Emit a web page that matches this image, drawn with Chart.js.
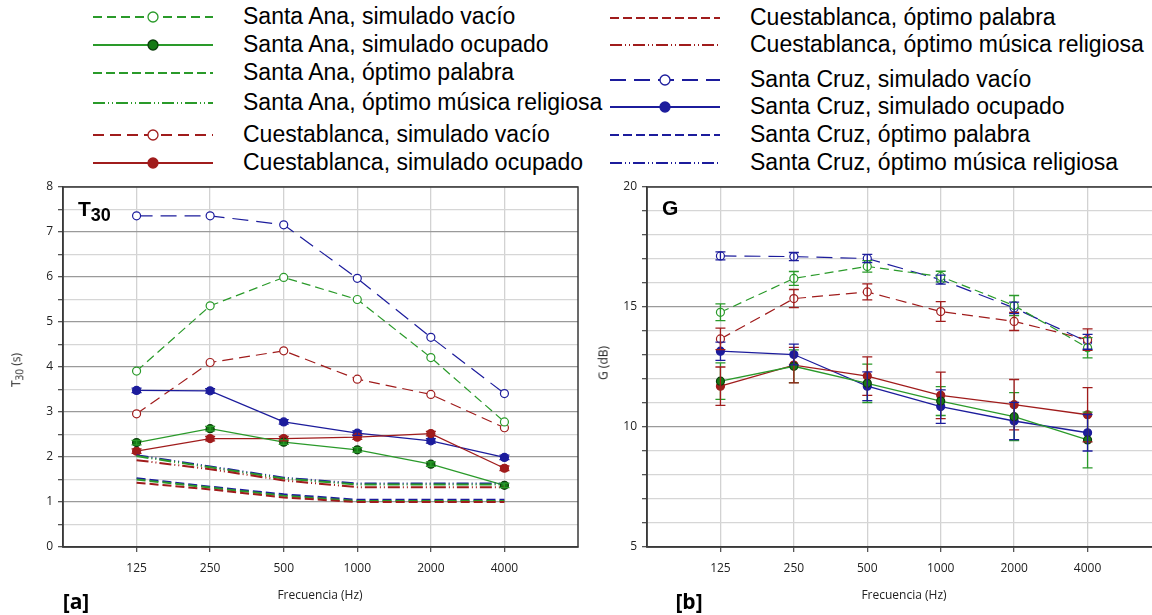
<!DOCTYPE html>
<html>
<head>
<meta charset="utf-8">
<script src="https://cdn.jsdelivr.net/npm/chart.js@4/dist/chart.umd.min.js"></script>
<style>
  body { margin: 0; width: 1152px; height: 615px; overflow: hidden; position: relative; background: #fff; font-family: "Liberation Sans", Arial, sans-serif; }
  .abs { position: absolute; }
  .legText { font-size: 23px; color: #000; white-space: nowrap; line-height: 23px; }
  .panelTag { font-family: "Open Sans", sans-serif; font-weight: bold; font-size: 21px; color: #000; }
  .axTitle { font-family: "Open Sans", sans-serif; font-size: 12px; color: #222; white-space: nowrap; }
  .inLabel { font-family: "Liberation Sans", Arial, sans-serif; font-weight: bold; font-size: 21px; color: #000; }
  canvas { position: absolute; }
</style>
</head>
<body>
<div id="legend"></div>
<canvas id="t30Chart" width="590" height="445" style="left:0;top:170px"></canvas>
<canvas id="gChart" width="600" height="445" style="left:584px;top:170px"></canvas>

<div class="abs inLabel" style="left:78px;top:197px">T<sub style="font-size:18px">30</sub></div>
<div class="abs inLabel" style="left:662px;top:196px">G</div>
<div class="abs axTitle" style="left:17px;top:370px;transform:translate(-50%,-50%) rotate(-90deg)">T<sub>30</sub> (s)</div>
<div class="abs axTitle" style="left:603px;top:363px;transform:translate(-50%,-50%) rotate(-90deg)">G (dB)</div>
<div class="abs axTitle" style="left:320px;top:594px;transform:translate(-50%,-50%)">Frecuencia (Hz)</div>
<div class="abs axTitle" style="left:904px;top:594px;transform:translate(-50%,-50%)">Frecuencia (Hz)</div>
<div class="abs panelTag" style="left:76px;top:601px;transform:translate(-50%,-50%)">[a]</div>
<div class="abs panelTag" style="left:689px;top:601px;transform:translate(-50%,-50%)">[b]</div>

<script>
// frequency bands (x axis)
const freqLabels = ['125', '250', '500', '1000', '2000', '4000'];

// T30 (s)
const t30SantaAnaVacio = [3.91, 5.36, 5.99, 5.50, 4.21, 2.78];
const t30SantaAnaOcupado = [2.32, 2.63, 2.33, 2.16, 1.84, 1.37];
const t30SantaAnaPalabra = [1.50, 1.32, 1.14, 1.02, 1.02, 1.02];
const t30SantaAnaMusica = [2.02, 1.77, 1.52, 1.39, 1.39, 1.39];
const t30CuestaVacio = [2.96, 4.10, 4.36, 3.73, 3.39, 2.65];
const t30CuestaOcupado = [2.13, 2.41, 2.41, 2.44, 2.52, 1.75];
const t30CuestaPalabra = [1.43, 1.28, 1.10, 1.00, 1.00, 1.00];
const t30CuestaMusica = [1.93, 1.73, 1.48, 1.33, 1.33, 1.33];
const t30CruzVacio = [7.36, 7.36, 7.16, 5.97, 4.66, 3.41];
const t30CruzOcupado = [3.48, 3.47, 2.78, 2.53, 2.36, 1.99];
const t30CruzPalabra = [1.53, 1.34, 1.17, 1.05, 1.05, 1.05];
const t30CruzMusica = [2.04, 1.79, 1.54, 1.41, 1.41, 1.41];
const t30OcupadoErr = [0.05, 0.05, 0.05, 0.05, 0.05, 0.05];

// G (dB) with error bars
const gSantaAnaVacio = [14.78, 16.19, 16.69, 16.27, 15.06, 13.30];
const gSantaAnaVacioErr = [0.35, 0.29, 0.24, 0.22, 0.42, 0.42];
const gSantaAnaOcupado = [11.91, 12.53, 11.82, 11.08, 10.43, 9.46];
const gSantaAnaOcupadoErr = [0.76, 0.68, 0.80, 0.60, 1.00, 1.16];
const gCuestaVacio = [13.67, 15.35, 15.63, 14.81, 14.40, 13.64];
const gCuestaVacioErr = [0.45, 0.38, 0.33, 0.41, 0.38, 0.45];
const gCuestaOcupado = [11.70, 12.58, 12.12, 11.32, 10.93, 10.51];
const gCuestaOcupadoErr = [0.80, 0.74, 0.80, 0.97, 1.05, 1.13];
const gCruzVacio = [17.13, 17.10, 17.02, 16.14, 14.96, 13.55];
const gCruzVacioErr = [0.17, 0.17, 0.17, 0.19, 0.24, 0.31];
const gCruzOcupado = [13.16, 13.02, 11.70, 10.85, 10.25, 9.76];
const gCruzOcupadoErr = [0.38, 0.43, 0.60, 0.70, 0.78, 0.76];

const GREEN = '#2a9a2a', RED = '#a01c1c', BLUE = '#1c1c9c';

// line styles per series
const st = {
  saVacio:   { label: 'Santa Ana, simulado vacío', color: GREEN, dash: [9, 5], width: 1.2, marker: 'open' },
  saOcup:    { label: 'Santa Ana, simulado ocupado', color: GREEN, dash: [], width: 1.3, marker: 'fill', fill: '#157a15', edge: '#0b3d0b' },
  saPal:     { label: 'Santa Ana, óptimo palabra', color: GREEN, dash: [9, 4], width: 2, marker: 'none' },
  saMus:     { label: 'Santa Ana, óptimo música religiosa', color: GREEN, dash: [12, 3, 1, 3, 1, 3], width: 2, marker: 'none' },
  cbVacio:   { label: 'Cuestablanca, simulado vacío', color: RED, dash: [11, 6], width: 1.2, marker: 'open' },
  cbOcup:    { label: 'Cuestablanca, simulado ocupado', color: RED, dash: [], width: 1.3, marker: 'fill', fill: RED, edge: RED },
  cbPal:     { label: 'Cuestablanca, óptimo palabra', color: RED, dash: [9, 4], width: 2, marker: 'none' },
  cbMus:     { label: 'Cuestablanca, óptimo música religiosa', color: RED, dash: [12, 3, 1, 3, 1, 3], width: 2, marker: 'none' },
  scVacio:   { label: 'Santa Cruz, simulado vacío', color: BLUE, dash: [16, 8], width: 1.2, marker: 'open' },
  scOcup:    { label: 'Santa Cruz, simulado ocupado', color: BLUE, dash: [], width: 1.3, marker: 'fill', fill: BLUE, edge: BLUE },
  scPal:     { label: 'Santa Cruz, óptimo palabra', color: BLUE, dash: [9, 4], width: 2, marker: 'none' },
  scMus:     { label: 'Santa Cruz, óptimo música religiosa', color: BLUE, dash: [12, 3, 1, 3, 1, 3], width: 2, marker: 'none' }
};

function makeSet(s, values, errors) {
  return {
    label: s.label,
    data: values.map((v, i) => ({ x: i + 1, y: v })),
    errors: errors || null,
    borderColor: s.color,
    borderWidth: s.width,
    borderDash: s.dash,
    pointRadius: s.marker === 'none' ? 0 : 4,
    pointBorderWidth: 1.2,
    pointBackgroundColor: s.marker === 'open' ? '#fff' : (s.fill || s.color),
    pointBorderColor: s.marker === 'fill' ? (s.edge || s.color) : s.color,
    fill: false,
    tension: 0
  };
}

// legend (HTML + svg samples)
const legLeft = [['saVacio', 17], ['saOcup', 45], ['saPal', 73], ['saMus', 103], ['cbVacio', 135], ['cbOcup', 163]];
const legRight = [['cbPal', 18], ['cbMus', 45], ['scVacio', 80], ['scOcup', 107], ['scPal', 135], ['scMus', 163]];
function addLegend(items, x0, x1, textX) {
  const box = document.getElementById('legend');
  items.forEach(([key, y]) => {
    const s = st[key];
    const w = x1 - x0;
    let svg = `<svg class="abs" style="left:${x0}px;top:${y - 8}px" width="${w}" height="16">` +
      `<line x1="0" y1="8" x2="${w}" y2="8" stroke="${s.color}" stroke-width="2" stroke-dasharray="${s.dash.join(' ')}"/>`;
    if (s.marker !== 'none') {
      const f = s.marker === 'open' ? '#fff' : (s.fill || s.color);
      const e = s.marker === 'fill' ? (s.edge || s.color) : s.color;
      svg += `<circle cx="${w / 2}" cy="8" r="5" fill="${f}" stroke="${e}" stroke-width="1.3"/>`;
    }
    svg += '</svg>';
    box.insertAdjacentHTML('beforeend', svg +
      `<div class="abs legText" style="left:${textX}px;top:${y - 12}px">${s.label}</div>`);
  });
}
addLegend(legLeft, 93, 213, 243);
addLegend(legRight, 610, 720, 750);

// error bars + plot frame
const errorBars = {
  id: 'errorBars',
  beforeDatasetsDraw(chart) {
    const { ctx, chartArea: a } = chart;
    ctx.save();
    ctx.strokeStyle = '#3a3a3a';
    ctx.lineWidth = 1.5;
    ctx.strokeRect(a.left, a.top, a.right - a.left, a.bottom - a.top);
    ctx.restore();
  },
  afterDatasetsDraw(chart) {
    const { ctx } = chart;
    const xs = chart.scales.x, ys = chart.scales.y;
    ctx.save();
    chart.data.datasets.forEach(ds => {
      if (!ds.errors) return;
      ctx.strokeStyle = ds.borderColor;
      ctx.lineWidth = 1.3;
      ds.data.forEach((p, i) => {
        const e = ds.errors[i];
        const px = xs.getPixelForValue(p.x);
        const yt = ys.getPixelForValue(p.y + e), yb = ys.getPixelForValue(p.y - e);
        ctx.beginPath();
        ctx.moveTo(px, yt); ctx.lineTo(px, yb);
        ctx.moveTo(px - 5, yt); ctx.lineTo(px + 5, yt);
        ctx.moveTo(px - 5, yb); ctx.lineTo(px + 5, yb);
        ctx.stroke();
      });
    });
    ctx.restore();
  }
};

Chart.defaults.font.family = '"Open Sans", sans-serif';
Chart.defaults.color = '#222';

function makeOptions(yMin, yMax, minorStep, majorStep, padRight) {
  return {
    responsive: false,
    animation: false,
    layout: { padding: { top: 17, right: padRight, left: 0, bottom: 0 } },
    plugins: { legend: { display: false }, tooltip: { enabled: false } },
    scales: {
      x: {
        type: 'linear', min: 0, max: 7,
        afterFit: s => { s.height = 68; },
        afterBuildTicks: s => { s.ticks = [0, 1, 2, 3, 4, 5, 6, 7].map(v => ({ value: v })); },
        ticks: {
          font: { size: 12 }, padding: 9, maxRotation: 0, autoSkip: false,
          callback: v => (v >= 1 && v <= 6) ? freqLabels[v - 1] : ''
        },
        grid: {
          color: c => (c.tick && c.tick.value > 0 && c.tick.value < 7) ? '#d2d2d2' : 'rgba(0,0,0,0)',
          lineWidth: 1.3, tickLength: 5,
          tickColor: c => (c.tick && c.tick.value > 0 && c.tick.value < 7) ? '#555' : 'rgba(0,0,0,0)'
        },
        border: { color: '#3a3a3a', width: 1.5 }
      },
      y: {
        min: yMin, max: yMax,
        afterFit: s => { s.width = 63; },
        ticks: {
          stepSize: minorStep, font: { size: 12 }, padding: 5, autoSkip: false,
          callback: v => (Math.abs(v / majorStep - Math.round(v / majorStep)) < 1e-6) ? v : ''
        },
        grid: {
          color: c => (c.tick && Math.abs(c.tick.value / majorStep - Math.round(c.tick.value / majorStep)) < 1e-6) ? '#9a9a9a' : '#d6d6d6',
          lineWidth: 1.3, tickLength: 5, tickColor: '#555'
        },
        border: { color: '#3a3a3a', width: 1.5 }
      }
    }
  };
}

new Chart(document.getElementById('t30Chart'), {
  type: 'line',
  data: {
    datasets: [
      makeSet(st.cbPal, t30CuestaPalabra),
      makeSet(st.saPal, t30SantaAnaPalabra),
      makeSet(st.scPal, t30CruzPalabra),
      makeSet(st.cbMus, t30CuestaMusica),
      makeSet(st.saMus, t30SantaAnaMusica),
      makeSet(st.scMus, t30CruzMusica),
      makeSet(st.saOcup, t30SantaAnaOcupado, t30OcupadoErr),
      makeSet(st.cbOcup, t30CuestaOcupado, t30OcupadoErr),
      makeSet(st.scOcup, t30CruzOcupado, t30OcupadoErr),
      makeSet(st.saVacio, t30SantaAnaVacio),
      makeSet(st.cbVacio, t30CuestaVacio),
      makeSet(st.scVacio, t30CruzVacio)
    ]
  },
  options: makeOptions(0, 8, 0.5, 1, 12),
  plugins: [errorBars]
});

new Chart(document.getElementById('gChart'), {
  type: 'line',
  data: {
    datasets: [
      makeSet(st.saOcup, gSantaAnaOcupado, gSantaAnaOcupadoErr),
      makeSet(st.cbOcup, gCuestaOcupado, gCuestaOcupadoErr),
      makeSet(st.scOcup, gCruzOcupado, gCruzOcupadoErr),
      makeSet(st.saVacio, gSantaAnaVacio, gSantaAnaVacioErr),
      makeSet(st.cbVacio, gCuestaVacio, gCuestaVacioErr),
      makeSet(st.scVacio, gCruzVacio, gCruzVacioErr)
    ]
  },
  options: makeOptions(5, 20, 1, 5, 23),
  plugins: [errorBars]
});
</script>
</body>
</html>
